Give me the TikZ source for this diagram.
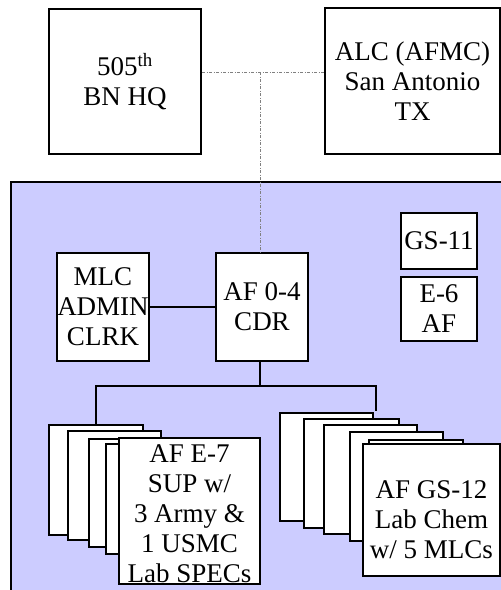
\documentclass[tikz,border=0pt]{standalone}
\usepackage{fontspec}
\setmainfont{Liberation Serif}
\definecolor{panel}{HTML}{CCCCFF}
\begin{document}
\begin{tikzpicture}[x=1pt,y=-1pt,
  box/.style={draw=black, line width=2pt, fill=white, inner sep=0pt, anchor=north west,
    align=center, font=\fontsize{27}{30}\selectfont},
  txt/.style={inner sep=0pt, align=center, font=\fontsize{27}{30}\selectfont},
  link/.style={draw=black, line width=2pt},
  dotline/.style={draw=gray, line width=1pt, dash pattern=on 3pt off 1.5pt on 1pt off 1.5pt}]
\useasboundingbox (0,0) rectangle (501,590);
\begin{scope}
\clip (0,0) rectangle (501,590);
% panel
\draw[line width=2pt, fill=panel] (10.5,181.5) rectangle (530,620);
% top boxes
\node[box, minimum width=152pt, minimum height=145pt] (hq) at (48,8) {505\textsuperscript{th}\\BN HQ};
\node[box, minimum width=175pt, minimum height=146pt] (alc) at (324,7) {ALC (AFMC)\\San Antonio\\TX};
% inner boxes
\node[box, minimum width=92pt, minimum height=108pt] (mlc) at (56,252) {MLC\\ADMIN\\CLRK};
\node[box, minimum width=92pt, minimum height=108pt] (cdr) at (215,252) {AF 0-4\\CDR};
\node[box, minimum width=76pt, minimum height=56pt] (gs) at (400,212) {GS-11};
\node[box, minimum width=76pt, minimum height=64pt] (e6) at (400,276) {E-6\\AF};
% left stack
\node[box, minimum width=94pt, minimum height=110pt] (l1) at (48,424) {};
\node[box, minimum width=93pt, minimum height=109pt] (l2) at (67,430) {};
\node[box, minimum width=94pt, minimum height=108pt] (l3) at (88,438) {};
\node[box, minimum width=94pt, minimum height=110pt] (l4) at (105,443) {};
\node[box, draw=none, minimum width=139pt, minimum height=144pt] (lf) at (119,438) {};
\node[txt] (lft) at ([yshift=-3pt]lf.center) {AF E-7\\SUP w/\\3 Army \&\\1 USMC\\Lab SPECs};
\draw[line width=2pt] (lf.north west) rectangle (lf.south east);
% right stack
\node[box, minimum width=93pt, minimum height=108pt] (r1) at (279,412) {};
\node[box, minimum width=95pt, minimum height=109pt] (r2) at (303,418) {};
\node[box, minimum width=93pt, minimum height=109pt] (r3) at (323,424) {};
\node[box, minimum width=93pt, minimum height=109pt] (r4) at (349,431) {};
\node[box, minimum width=94pt, minimum height=109pt] (r5) at (368,439) {};
\node[box, minimum width=137pt, minimum height=132pt] (rf) at (362,443) {};
\node[txt] (rft) at ([yshift=-10pt]rf.center) {AF GS-12\\Lab Chem\\w/ 5 MLCs};
% connectors
\coordinate (j) at (260,72);
\draw[dotline] (j -| hq.east) -- (j -| alc.west);
\draw[dotline] (j) -- (j |- cdr.north);
\draw[link] (mlc) -- (cdr);
\coordinate (bar) at (260,386);
\coordinate (rdrop) at (376,411);
\draw[link] (bar |- cdr.south) -- (bar);
\draw[link] (l1.north) -- (l1.north |- bar) -- (rdrop |- bar) -- (rdrop);
\end{scope}
\end{tikzpicture}
\end{document}
